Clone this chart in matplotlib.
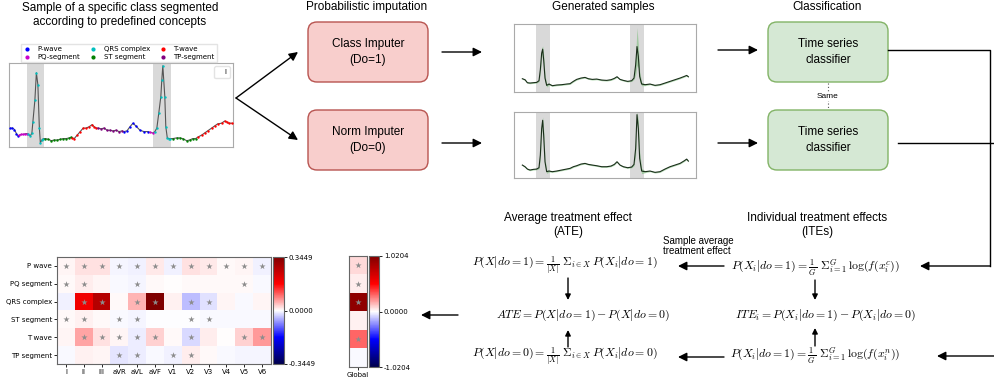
import matplotlib
matplotlib.use('Agg')
import matplotlib.pyplot as plt
import numpy as np
from matplotlib.patches import FancyBboxPatch
from matplotlib.lines import Line2D

plt.rcParams['mathtext.fontset'] = 'cm'

# ---- data ----
# segmented sample (time, amplitude) and its concept segments
ecg_t = [9.5, 12, 14, 16, 17.5,
         19, 21, 23, 25, 27,
         28, 30, 31.5, 32.5, 34.5, 36, 37.5, 39, 40, 41.5, 43,
         45, 48, 51, 54, 57, 60, 63, 66, 69, 71,
         72, 74, 77, 80, 83, 86, 89, 92, 94, 96,
         98, 101, 104, 107, 110, 113, 116, 119, 122,
         124, 127, 130, 133, 136, 140, 144, 148,
         150, 153,
         155, 157, 159, 161, 162, 163, 165, 166, 167.5, 169, 170.5,
         173, 177, 180, 183, 187, 190, 193, 196,
         198, 202, 205, 208, 212, 215, 218, 222, 225, 227, 229, 232]
ecg_v = [0.14, 0.14, 0.12, 0.06, 0.03,
         0.04, 0.05, 0.05, 0.06, 0.06,
         0.05, 0.03, 0.07, 0.23, 0.54, 0.93, 0.76, 0.14, -0.07, -0.03, -0.01,
         -0.01, -0.02, -0.04, -0.03, -0.03, -0.02, -0.01, -0.01, 0.0, 0.01,
         0.0, -0.01, 0.04, 0.09, 0.14, 0.14, 0.16, 0.19, 0.16, 0.14,
         0.14, 0.13, 0.14, 0.11, 0.11, 0.10, 0.11, 0.09, 0.10,
         0.09, 0.10, 0.16, 0.21, 0.17, 0.11, 0.09, 0.09,
         0.08, 0.07,
         0.09, 0.14, 0.36, 0.59, 0.83, 1.03, 0.59, 0.16, 0.0, -0.01, -0.01,
         -0.01, 0.0, 0.0, -0.01, -0.04, -0.03, -0.01, -0.01,
         0.01, 0.04, 0.07, 0.10, 0.14, 0.17, 0.20, 0.21, 0.24, 0.23, 0.21, 0.21]
seg_concepts = ['P-wave', 'PQ-segment', 'QRS complex', 'ST segment', 'T-wave', 'TP-segment',
                'P-wave', 'PQ-segment', 'QRS complex', 'ST segment', 'T-wave']
seg_lengths = [5, 5, 11, 10, 10, 9, 8, 2, 11, 8, 12]
concept_order = ['P-wave', 'PQ-segment', 'QRS complex', 'ST segment', 'T-wave', 'TP-segment']
concept_colors = ['#0000ff', '#cc00cc', '#00bfbf', '#008000', '#ff0000', '#800080']

# generated samples (mean and spread) for do=1 and do=0
gen_t = [2, 10, 17, 25, 35, 45, 52, 56, 60, 63, 66, 70, 75, 82, 92, 105, 120, 135, 145, 155,
         165, 178, 190, 200, 212, 225, 240, 255, 268, 278, 286, 295, 305, 318, 330, 337,
         342, 346, 350, 354, 360, 370, 385, 400, 415, 430, 445, 460, 475, 488, 495, 500]
gen_do1 = [0.18, 0.15, 0.06, 0.05, 0.06, 0.07, 0.12, 0.45, 0.95, 1.07, 0.75, 0.20, -0.02, 0.02,
           -0.03, -0.01, 0.0, 0.02, 0.03, 0.10, 0.16, 0.20, 0.22, 0.18, 0.16, 0.17, 0.14, 0.13,
           0.15, 0.19, 0.24, 0.16, 0.13, 0.10, 0.12, 0.20, 0.60, 1.15, 0.85, 0.25, 0.02, 0.0,
           0.02, -0.02, 0.0, 0.05, 0.10, 0.15, 0.20, 0.25, 0.28, 0.24]
gen_do1_spread = [0.02, 0.02, 0.02, 0.02, 0.02, 0.02, 0.03, 0.10, 0.15, 0.10, 0.15, 0.10, 0.05, 0.03,
                  0.02, 0.02, 0.02, 0.02, 0.02, 0.02, 0.02, 0.02, 0.02, 0.02, 0.02, 0.02, 0.02, 0.02,
                  0.02, 0.02, 0.02, 0.02, 0.02, 0.02, 0.02, 0.04, 0.30, 0.57, 0.35, 0.15, 0.05, 0.03,
                  0.02, 0.02, 0.02, 0.02, 0.02, 0.02, 0.02, 0.02, 0.02, 0.02]
gen_do0 = [0.20, 0.15, 0.08, 0.05, 0.07, 0.08, 0.12, 0.50, 1.30, 1.55, 1.10, 0.30, 0.0, 0.02,
           0.0, 0.02, 0.05, 0.08, 0.10, 0.15, 0.18, 0.23, 0.25, 0.22, 0.20, 0.18, 0.15, 0.15,
           0.17, 0.22, 0.30, 0.20, 0.15, 0.12, 0.14, 0.22, 0.70, 1.72, 1.30, 0.40, 0.02, 0.0,
           0.02, -0.02, 0.0, 0.08, 0.15, 0.20, 0.25, 0.33, 0.38, 0.32]
gen_do0_spread = [0.02, 0.02, 0.02, 0.02, 0.02, 0.02, 0.03, 0.12, 0.15, 0.10, 0.15, 0.10, 0.05, 0.03,
                  0.02, 0.02, 0.02, 0.02, 0.02, 0.02, 0.02, 0.02, 0.02, 0.02, 0.02, 0.02, 0.02, 0.02,
                  0.02, 0.02, 0.02, 0.02, 0.02, 0.02, 0.02, 0.04, 0.20, 0.10, 0.25, 0.20, 0.08, 0.03,
                  0.02, 0.02, 0.02, 0.02, 0.02, 0.02, 0.02, 0.02, 0.02, 0.02]
gen_qrs_start = [43, 325]
gen_qrs_end = [85, 368]

# treatment effects per concept and lead
leads = ['I', 'II', 'III', 'aVR', 'aVL', 'aVF', 'V1', 'V2', 'V3', 'V4', 'V5', 'V6']
concepts = ['P wave', 'PQ segment', 'QRS complex', 'ST segment', 'T wave', 'TP segment']
effects = np.array([
    [0.008, 0.02, 0.02, -0.008, -0.01, 0.015, -0.01, 0.02, 0.015, 0.004, 0.008, -0.01],
    [0.004, 0.012, 0.008, -0.003, -0.006, 0.005, 0.002, 0.004, 0.004, 0.003, 0.005, -0.003],
    [-0.01, 0.19, 0.27, 0.004, 0.05, 0.3449, 0.01, -0.045, -0.02, 0.008, -0.003, 0.008],
    [0.004, 0.01, 0.004, -0.005, -0.008, -0.002, -0.002, -0.002, -0.004, -0.005, -0.005, -0.005],
    [0.008, 0.06, 0.02, 0.008, -0.013, 0.03, 0.004, -0.025, 0.012, 0.002, 0.03, 0.07],
    [-0.004, 0.01, 0.008, -0.018, -0.013, -0.004, -0.01, 0.012, 0.003, -0.003, -0.008, -0.008],
])
significant = np.array([
    [1, 1, 1, 1, 1, 1, 1, 1, 1, 1, 1, 1],
    [1, 1, 0, 0, 1, 0, 0, 0, 0, 0, 1, 0],
    [0, 1, 1, 0, 1, 1, 0, 1, 1, 0, 0, 0],
    [1, 1, 0, 1, 1, 0, 0, 1, 1, 0, 0, 0],
    [0, 1, 1, 1, 1, 1, 0, 1, 0, 0, 1, 1],
    [0, 0, 0, 1, 1, 0, 1, 1, 0, 0, 0, 0],
])
effect_lim = 0.3449
global_effects = [0.077, 0.036, 0.95, 0.025, 0.31, -0.015]
global_significant = [1, 1, 1, 0, 1, 0]
global_lim = 1.0204

# ---- figure ----
W, H = 995, 381
fig = plt.figure(figsize=(9.95, 3.81), dpi=100)
FONT = 'Liberation Sans'


def px_axes(x0, y0, x1, y1):
    return fig.add_axes([x0 / W, 1 - y1 / H, (x1 - x0) / W, (y1 - y0) / H])


ov = fig.add_axes([0, 0, 1, 1])
ov.set_xlim(0, W)
ov.set_ylim(H, 0)
ov.axis('off')


def arrow(x0, y0, x1, y1, ms=13):
    ov.annotate('', xy=(x1, y1), xytext=(x0, y0),
                arrowprops=dict(arrowstyle='-|>', color='black', lw=1, mutation_scale=ms,
                                shrinkA=0, shrinkB=0))


def box(x0, y0, x1, y1, fc, ec, label):
    ov.add_patch(FancyBboxPatch((x0, y0), x1 - x0, y1 - y0,
                                boxstyle='round,pad=0,rounding_size=9', fc=fc, ec=ec, lw=1))
    ov.text((x0 + x1) / 2, (y0 + y1) / 2, label, ha='center', va='center', fontsize=8.5,
            family=FONT, linespacing=1.45)


# titles
ov.text(120, 15, 'Sample of a specific class segmented\naccording to predefined concepts',
        ha='center', va='center', fontsize=8.5, family=FONT, linespacing=1.25)
ov.text(367, 7, 'Probabilistic imputation', ha='center', va='center', fontsize=8.5, family=FONT)
ov.text(603, 7, 'Generated samples', ha='center', va='center', fontsize=8.5, family=FONT)
ov.text(827, 7, 'Classification', ha='center', va='center', fontsize=8.5, family=FONT)
ov.text(568, 225, 'Average treatment effect\n(ATE)', ha='center', va='center', fontsize=8.5,
        family=FONT, linespacing=1.3)
ov.text(817, 225, 'Individual treatment effects\n(ITEs)', ha='center', va='center', fontsize=8.5,
        family=FONT, linespacing=1.3)
ov.text(663, 246, 'Sample average\ntreatment effect', ha='left', va='center', fontsize=7,
        family=FONT, linespacing=1.1)

# boxes
box(308, 22, 428, 82, '#f8cecc', '#b85450', 'Class Imputer\n(Do=1)')
box(308, 110, 428, 170, '#f8cecc', '#b85450', 'Norm Imputer\n(Do=0)')
box(768, 22, 888, 82, '#d5e8d4', '#82b366', 'Time series\nclassifier')
box(768, 110, 888, 170, '#d5e8d4', '#82b366', 'Time series\nclassifier')
ov.plot([828, 828], [83, 109], color='#555555', lw=0.8, ls=(0, (1, 2)))
ov.text(828, 97, 'Same', ha='center', va='center', fontsize=6, family=FONT,
        bbox=dict(fc='white', ec='none', pad=0.5))

# arrows of the pipeline
arrow(236, 98, 298, 52)
arrow(236, 98, 298, 140)
arrow(442, 52, 482, 52)
arrow(442, 143, 482, 143)
arrow(718, 50, 758, 50)
arrow(718, 143, 758, 143)
ov.plot([888, 990, 990], [50, 50, 266], color='black', lw=1)
arrow(990, 266, 920, 266)
ov.plot([898, 995], [143, 143], color='black', lw=1)
arrow(995, 356, 937, 356)
arrow(724, 266, 678, 266)
arrow(724, 357, 678, 357)
arrow(568, 278, 568, 300, ms=8)
arrow(568, 347, 568, 330, ms=8)
arrow(815, 280, 815, 300, ms=8)
arrow(815, 346, 815, 328, ms=8)
arrow(458, 315, 421, 315)

# equations
eq = 8.5
ov.text(565, 266, r'$P(X|do=1) = \frac{1}{|X|}\ \Sigma_{i\in X}\,P(X_i|do=1)$', ha='center',
        va='center', fontsize=eq)
ov.text(583, 315, r'$ATE = P(X|do=1) - P(X|do=0)$', ha='center', va='center', fontsize=eq)
ov.text(565, 357, r'$P(X|do=0) = \frac{1}{|X|}\ \Sigma_{i\in X}\,P(X_i|do=0)$', ha='center',
        va='center', fontsize=eq)
ov.text(815, 268, r'$P(X_i|do=1) = \frac{1}{G}\ \Sigma_{i=1}^{G}\,\log(f(x_i^c))$', ha='center',
        va='center', fontsize=eq)
ov.text(825, 315, r'$ITE_i = P(X_i|do=1) - P(X_i|do=0)$', ha='center', va='center', fontsize=eq)
ov.text(815, 356, r'$P(X_i|do=1) = \frac{1}{G}\ \Sigma_{i=1}^{G}\,\log(f(x_i^n))$', ha='center',
        va='center', fontsize=eq)

# ---- segmented sample ----
ax = px_axes(9, 63, 233, 147)
t = np.array(ecg_t)
v = np.array(ecg_v)
ax.plot(t, v, color='#555555', lw=0.8, zorder=2)
start = 0
for name, n in zip(seg_concepts, seg_lengths):
    c = concept_colors[concept_order.index(name)]
    ax.scatter(t[start:start + n], v[start:start + n], s=3, color=c, zorder=3, linewidths=0)
    if name == 'QRS complex':
        ax.axvspan(t[start] - 1.5, t[start + n - 1] + 0.8, color='#d9d9d9', zorder=1, lw=0)
    start += n
ax.set_xlim(8.5, 233.5)
ax.set_ylim(-0.13, 1.07)
ax.set_xticks([])
ax.set_yticks([])
for s in ax.spines.values():
    s.set_color('#aaaaaa')
handles = [Line2D([], [], ls='none', marker='o', ms=2, color=c) for c in concept_colors]
leg = ax.legend(handles, concept_order, ncol=3, loc='lower center', bbox_to_anchor=(0.49, 1.01),
                fontsize=5, borderaxespad=0, columnspacing=1.3, handletextpad=0.9,
                handlelength=1.2, labelspacing=0.25, borderpad=0.3, fancybox=False,
                edgecolor='#dddddd')
ax.add_artist(leg)
ax.legend([Line2D([], [], color='none')], ['I'], loc='upper right', fontsize=5,
          handlelength=0.9, handletextpad=0.2, borderpad=0.4, edgecolor='#dddddd')

# ---- generated samples ----
for (y0, y1), mean, spread, ylim in [((24, 92), gen_do1, gen_do1_spread, (-0.22, 1.83)),
                                     ((112, 178), gen_do0, gen_do0_spread, (-0.19, 1.8))]:
    g = px_axes(514, y0, 696, y1)
    m = np.array(mean)
    sp = np.array(spread)
    for a, b in zip(gen_qrs_start, gen_qrs_end):
        g.axvspan(a, b, color='#d9d9d9', lw=0, zorder=1)
    g.fill_between(gen_t, m - sp, m + sp, color='#7fbf7f', alpha=0.6, lw=0, zorder=2)
    g.plot(gen_t, m, color='#1a2e1a', lw=0.8, zorder=3)
    g.set_xlim(-23, 523)
    g.set_ylim(*ylim)
    g.set_xticks([])
    g.set_yticks([])
    for s in g.spines.values():
        s.set_color('#aaaaaa')

# ---- concept x lead heatmap ----
hm = px_axes(57, 257, 271, 364)
im = hm.imshow(effects, cmap='seismic', vmin=-effect_lim, vmax=effect_lim, aspect='auto')
rows, cols = np.nonzero(significant)
hm.scatter(cols, rows, marker='*', s=22, color='#8c8c8c', linewidths=0)
hm.set_xticks(range(len(leads)))
hm.set_xticklabels(leads, fontsize=5)
hm.set_yticks(range(len(concepts)))
hm.set_yticklabels(concepts, fontsize=5)
hm.tick_params(length=2, width=0.6, pad=1.5)
for s in hm.spines.values():
    s.set_color('#666666')
cax = px_axes(273, 257, 284, 364)
cb = fig.colorbar(im, cax=cax, ticks=[-effect_lim, 0, effect_lim], format='%.4f')
cb.ax.tick_params(labelsize=5, length=2, width=0.6, pad=1.5)
cb.outline.set_edgecolor('#666666')

gh = px_axes(349, 256, 367, 367)
gim = gh.imshow(np.array(global_effects)[:, None], cmap='seismic', vmin=-global_lim,
                vmax=global_lim, aspect='auto')
gr = [i for i, s in enumerate(global_significant) if s]
gh.scatter([0] * len(gr), gr, marker='*', s=22, color='#8c8c8c', linewidths=0)
gh.set_xticks([0])
gh.set_xticklabels(['Global'], fontsize=5)
gh.set_yticks([])
gh.tick_params(length=2, width=0.6, pad=1.5)
for s in gh.spines.values():
    s.set_color('#666666')
gcax = px_axes(369, 256, 379, 367)
gcb = fig.colorbar(gim, cax=gcax, ticks=[-global_lim, 0, global_lim], format='%.4f')
gcb.ax.tick_params(labelsize=5, length=2, width=0.6, pad=1.5)
gcb.outline.set_edgecolor('#666666')

fig.savefig('out.png', dpi=100)
